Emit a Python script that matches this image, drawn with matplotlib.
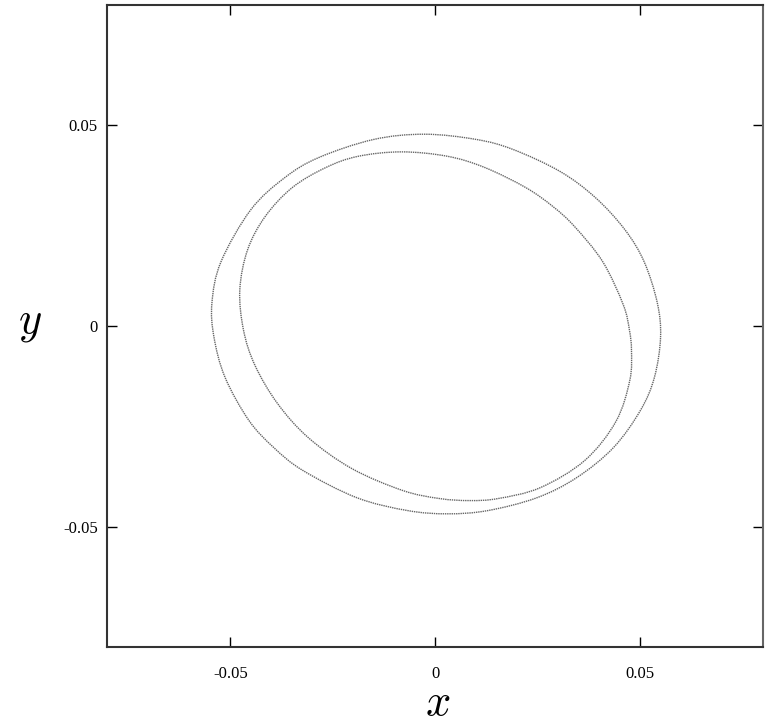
import matplotlib
matplotlib.use("Agg")
import matplotlib.pyplot as plt
from matplotlib.path import Path
from matplotlib.patches import PathPatch
import numpy as np

plt.rcParams['mathtext.fontset'] = 'cm'

# outer orbit (counter-clockwise from the right)
outer_x = [0.0550, 0.0542, 0.0510, 0.0463, 0.0391, 0.0305, 0.0190, 0.0100,
           -0.0026, -0.0150, -0.0284, -0.0367, -0.0450, -0.0523, -0.0545,
           -0.0540, -0.0513, -0.0455, -0.0394, -0.0323, -0.0191, -0.0067,
           0.0030, 0.0128, 0.0248, 0.0345, 0.0435, 0.0501, 0.0535]
outer_y = [-0.0028, 0.0058, 0.0160, 0.0240, 0.0320, 0.0385, 0.0440, 0.0465,
           0.0478, 0.0465, 0.0420, 0.0370, 0.0290, 0.0160, 0.0058,
           -0.0028, -0.0128, -0.0235, -0.0303, -0.0360, -0.0428, -0.0460,
           -0.0468, -0.0460, -0.0428, -0.0378, -0.0303, -0.0210, -0.0128]

# inner orbit
inner_x = [0.0479, 0.0474, 0.0459, 0.0409, 0.0340, 0.0287, 0.0221, 0.0121,
           0.0030, -0.0082, -0.0188, -0.0267, -0.0349, -0.0415, -0.0458,
           -0.0477, -0.0468, -0.0440, -0.0385, -0.0310, -0.0204, -0.0079,
           0.0011, 0.0084, 0.0153, 0.0256, 0.0365, 0.0441, 0.0475]
inner_y = [-0.0060, -0.0010, 0.0053, 0.0160, 0.0248, 0.0298, 0.0345, 0.0395,
           0.0423, 0.0434, 0.0423, 0.0395, 0.0345, 0.0273, 0.0190,
           0.0090, -0.0010, -0.0098, -0.0193, -0.0278, -0.0355, -0.0410,
           -0.0430, -0.0435, -0.0430, -0.0403, -0.0335, -0.0238, -0.0135]

ticks = [-0.05, 0, 0.05]
tick_labels = ['-0.05', '0', '0.05']


def closed_curve(xs, ys):
    # smooth closed path through the read points (Catmull-Rom as Bezier)
    p = np.column_stack([xs, ys])
    n = len(p)
    verts = [p[0]]
    codes = [Path.MOVETO]
    for i in range(n):
        p0, p1, p2, p3 = p[i - 1], p[i], p[(i + 1) % n], p[(i + 2) % n]
        verts += [p1 + (p2 - p0) / 6.0, p2 - (p3 - p1) / 6.0, p2]
        codes += [Path.CURVE4] * 3
    return Path(verts, codes)


fig = plt.figure(figsize=(7.71, 7.27), dpi=100)
ax = fig.add_axes([0.1394, 0.110, 0.8502, 0.8831])

for xs, ys in [(outer_x, outer_y), (inner_x, inner_y)]:
    ax.add_patch(PathPatch(closed_curve(xs, ys), facecolor='none',
                           edgecolor='#666666', lw=1.0,
                           linestyle=(0, (1, 0.6))))

ax.set_xlim(-0.08, 0.08)
ax.set_ylim(-0.08, 0.08)
ax.set_xticks(ticks)
ax.set_yticks(ticks)
ax.set_xticklabels(tick_labels, family='Liberation Serif', fontsize=12)
ax.set_yticklabels(tick_labels, family='Liberation Serif', fontsize=12)
ax.tick_params(axis='x', direction='in', length=7, width=1, top=True, pad=14)
ax.tick_params(axis='y', direction='in', length=7, width=1, right=True, pad=7)
for s in ax.spines.values():
    s.set_linewidth(1.5)
    s.set_color('#333333')
ax.spines['right'].set_color('#666666')

ax.set_xlabel('$x$', fontsize=32)
ax.set_ylabel('$y$', fontsize=32, rotation=0)
ax.xaxis.set_label_coords(0.503, -0.087)
ax.xaxis.label.set_va('center')
ax.yaxis.set_label_coords(-0.118, 0.506)
ax.yaxis.label.set_va('center')
ax.yaxis.label.set_ha('center')

fig.savefig('out.png', dpi=100)
